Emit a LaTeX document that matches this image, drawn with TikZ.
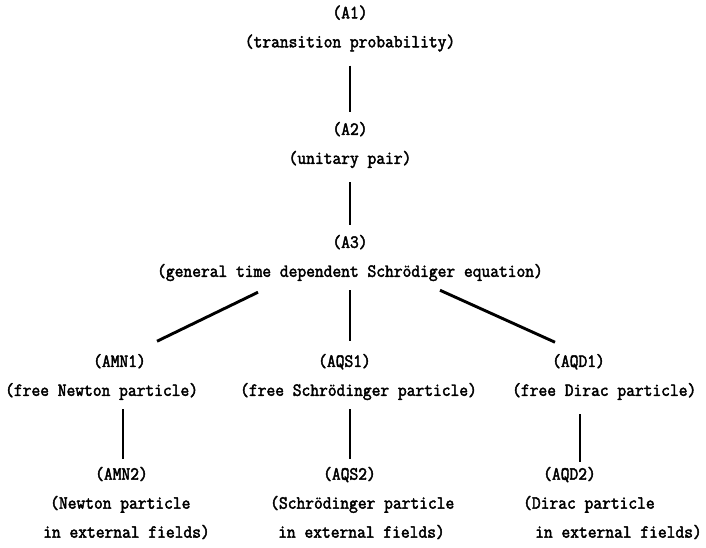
\documentclass[tikz,border=0pt]{standalone}
\usepackage{fontspec}
\newfontfamily\tw{Latin Modern Mono}[FakeBold=2.4,FakeStretch=0.92]
\tikzset{
  tx/.style={font=\tw\fontsize{18.5}{29}\selectfont, inner sep=0pt},
  ctr/.style={tx, align=center},
  lft/.style={tx, align=left, anchor=west},
  link/.style={line width=2.9pt}
}
\begin{document}
\begin{tikzpicture}[x=1pt,y=-1pt]
\useasboundingbox (0,0) rectangle (706,547);
% entries
\node[ctr] (A1) at (350,28.5) {(A1)\\(transition probability)};
\node[ctr] (A2) at (350,145) {(A2)\\(unitary pair)};
\node[ctr] (A3) at (350,258) {(A3)\\(general time dependent Schrödiger equation)};
\node[lft] (AMN1) at (5,377) {\hspace*{88pt}(AMN1)\\(free Newton particle)};
\node[lft] (AQS1) at (240,377) {\hspace*{78pt}(AQS1)\\(free Schrödinger particle)};
\node[lft] (AQD1) at (512,377) {\hspace*{40pt}(AQD1)\\(free Dirac particle)};
\node[lft] (AMN2) at (43,503) {\hspace*{52pt}(AMN2)\\\hspace*{7pt}(Newton particle\\in external fields)};
\node[lft] (AQS2) at (270,503) {\hspace*{53pt}(AQS2)\\(Schrödinger particle\\\hspace*{8pt}in external fields)};
\node[lft] (AQD2) at (523,503) {\hspace*{20pt}(AQD2)\\(Dirac particle\\\hspace*{12pt}in external fields)};
% connectors
\draw[link] ([shift={(0,14)}]A1.south) -- ([shift={(0,-10)}]A2.north);
\draw[link] ([shift={(0,14)}]A2.south) -- ([shift={(0,-10)}]A3.north);
\draw[link] ([shift={(-92,11)}]A3.south) -- ([shift={(152,-12.6)}]AMN1.north west);
\draw[link] ([shift={(0,9)}]A3.south) -- ([shift={(110,-12.6)}]AQS1.north west);
\draw[link] ([shift={(90,9)}]A3.south) -- ([shift={(43,-11.6)}]AQD1.north west);
\draw[link] ([shift={(118,9)}]AMN1.south west) -- ([shift={(80,-7.6)}]AMN2.north west);
\draw[link] ([shift={(110,9)}]AQS1.south west) -- ([shift={(80,-7.6)}]AQS2.north west);
\draw[link] ([shift={(68,14)}]AQD1.south west) -- ([shift={(57,-4.6)}]AQD2.north west);
\end{tikzpicture}
\end{document}
